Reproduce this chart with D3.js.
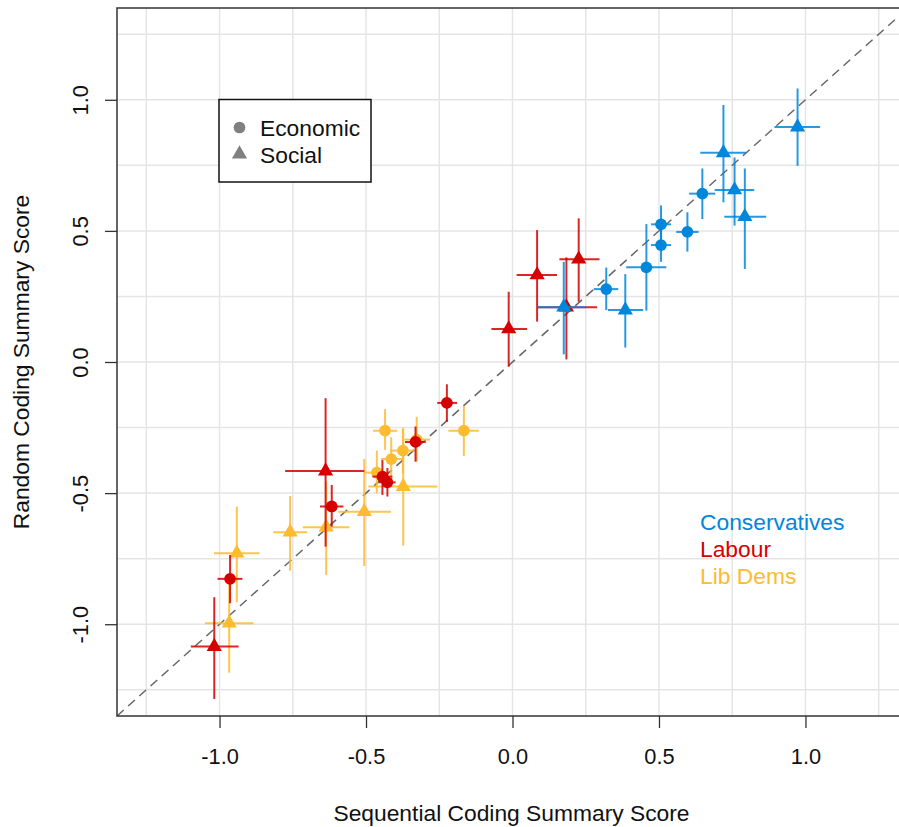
<!DOCTYPE html>
<html>
<head>
<meta charset="utf-8">
<script src="https://cdn.jsdelivr.net/npm/d3@7"></script>
<style>
  body { margin: 0; background: #fff; }
  text { font-family: "Liberation Sans", Arial, sans-serif; }
</style>
</head>
<body>
<script>
var parties = ["Conservatives", "Labour", "Lib Dems"];
var partyColors = ["#0087DC", "#D50000", "#FDBB30"];
var dimensions = ["Economic", "Social"];

// each row: sequential score, random score, seq low, seq high, random low, random high, dimension
var conservatives = [
  [0.648, 0.642, 0.603, 0.692, 0.545, 0.738, "Economic"],
  [0.507, 0.525, 0.473, 0.541, 0.460, 0.597, "Economic"],
  [0.507, 0.446, 0.473, 0.541, 0.382, 0.510, "Economic"],
  [0.597, 0.496, 0.559, 0.635, 0.421, 0.571, "Economic"],
  [0.457, 0.361, 0.388, 0.525, 0.196, 0.526, "Economic"],
  [0.320, 0.278, 0.277, 0.361, 0.198, 0.360, "Economic"],
  [0.973, 0.896, 0.894, 1.050, 0.748, 1.043, "Social"],
  [0.720, 0.798, 0.641, 0.797, 0.609, 0.980, "Social"],
  [0.758, 0.656, 0.690, 0.825, 0.520, 0.780, "Social"],
  [0.793, 0.554, 0.723, 0.866, 0.355, 0.738, "Social"],
  [0.385, 0.198, 0.326, 0.446, 0.055, 0.335, "Social"],
  [0.175, 0.209, 0.084, 0.249, 0.029, 0.382, "Social"]
];
var labour = [
  [-0.224, -0.156, -0.257, -0.189, -0.228, -0.085, "Economic"],
  [-0.331, -0.305, -0.367, -0.296, -0.380, -0.246, "Economic"],
  [-0.444, -0.437, -0.478, -0.410, -0.507, -0.374, "Economic"],
  [-0.427, -0.459, -0.457, -0.399, -0.513, -0.404, "Economic"],
  [-0.617, -0.551, -0.657, -0.577, -0.628, -0.469, "Economic"],
  [-0.964, -0.827, -1.007, -0.922, -0.920, -0.736, "Economic"],
  [-0.013, 0.126, -0.072, 0.050, -0.018, 0.268, "Social"],
  [0.084, 0.332, 0.014, 0.152, 0.154, 0.503, "Social"],
  [0.226, 0.392, 0.160, 0.297, 0.230, 0.548, "Social"],
  [0.184, 0.209, 0.084, 0.289, 0.010, 0.399, "Social"],
  [-0.638, -0.416, -0.776, -0.506, -0.704, -0.138, "Social"],
  [-1.018, -1.085, -1.098, -0.935, -1.285, -0.897, "Social"]
];
var libDems = [
  [-0.166, -0.262, -0.219, -0.115, -0.358, -0.167, "Economic"],
  [-0.435, -0.262, -0.476, -0.393, -0.335, -0.180, "Economic"],
  [-0.327, -0.296, -0.369, -0.281, -0.380, -0.209, "Economic"],
  [-0.374, -0.338, -0.417, -0.335, -0.425, -0.253, "Economic"],
  [-0.414, -0.370, -0.449, -0.375, -0.456, -0.287, "Economic"],
  [-0.463, -0.422, -0.504, -0.429, -0.501, -0.338, "Economic"],
  [-0.373, -0.475, -0.492, -0.256, -0.700, -0.253, "Social"],
  [-0.506, -0.571, -0.594, -0.415, -0.778, -0.370, "Social"],
  [-0.636, -0.630, -0.716, -0.557, -0.812, -0.456, "Social"],
  [-0.759, -0.649, -0.817, -0.701, -0.796, -0.511, "Social"],
  [-0.941, -0.729, -1.019, -0.864, -0.916, -0.552, "Social"],
  [-0.967, -0.996, -1.050, -0.884, -1.185, -0.820, "Social"]
];

var xTicks = [-1, -0.5, 0, 0.5, 1];
var yTicks = [-1, -0.5, 0, 0.5, 1];
var gridTicks = [-1.25, -1, -0.75, -0.5, -0.25, 0, 0.25, 0.5, 0.75, 1, 1.25];

var width = 899, height = 827;
var tickFont = 21.8, labelFont = 22.8;

var x = d3.scaleLinear().domain([-1.35, 1.35]).range([117, 908]);
var y = d3.scaleLinear().domain([-1.35, 1.35]).range([716, 8]);

var svg = d3.select("body").append("svg")
  .attr("width", width)
  .attr("height", height);

svg.append("defs").append("clipPath").attr("id", "plotclip")
  .append("rect")
  .attr("x", x.range()[0]).attr("y", y.range()[1])
  .attr("width", x.range()[1] - x.range()[0])
  .attr("height", y.range()[0] - y.range()[1]);

var plot = svg.append("g").attr("clip-path", "url(#plotclip)");

// grid
plot.selectAll(".vgrid").data(gridTicks).enter().append("line")
  .attr("x1", function(d) { return x(d); }).attr("x2", function(d) { return x(d); })
  .attr("y1", y.range()[0]).attr("y2", y.range()[1])
  .attr("stroke", "#e5e5e5").attr("stroke-width", 1.5);
plot.selectAll(".hgrid").data(gridTicks).enter().append("line")
  .attr("y1", function(d) { return y(d); }).attr("y2", function(d) { return y(d); })
  .attr("x1", x.range()[0]).attr("x2", x.range()[1])
  .attr("stroke", "#e5e5e5").attr("stroke-width", 1.5);

// 45 degree reference line
plot.append("line")
  .attr("x1", x(-1.35)).attr("y1", y(-1.35))
  .attr("x2", x(1.35)).attr("y2", y(1.35))
  .attr("stroke", "#666").attr("stroke-width", 1.5)
  .attr("stroke-dasharray", "9,6");

var symbol = d3.symbol()
  .type(function(d) { return d[6] === "Economic" ? d3.symbolCircle : d3.symbolTriangle; })
  .size(function(d) { return d[6] === "Economic" ? 108 : 100; });

// draw Lib Dems first, Conservatives last
var drawOrder = [[libDems, 2], [labour, 1], [conservatives, 0]];
drawOrder.forEach(function(p) {
  var rows = p[0], col = partyColors[p[1]];
  var g = plot.append("g");
  g.selectAll(".hbar").data(rows).enter().append("line")
    .attr("x1", function(d) { return x(d[2]); }).attr("x2", function(d) { return x(d[3]); })
    .attr("y1", function(d) { return y(d[1]); }).attr("y2", function(d) { return y(d[1]); })
    .attr("stroke", col).attr("stroke-width", 2).attr("stroke-opacity", 0.85);
  g.selectAll(".vbar").data(rows).enter().append("line")
    .attr("x1", function(d) { return x(d[0]); }).attr("x2", function(d) { return x(d[0]); })
    .attr("y1", function(d) { return y(d[4]); }).attr("y2", function(d) { return y(d[5]); })
    .attr("stroke", col).attr("stroke-width", 2).attr("stroke-opacity", 0.85);
  g.selectAll(".pt").data(rows).enter().append("path")
    .attr("d", symbol)
    .attr("transform", function(d) { return "translate(" + x(d[0]) + "," + y(d[1]) + ")"; })
    .attr("fill", col);
});

// box
svg.append("rect")
  .attr("x", x.range()[0]).attr("y", y.range()[1])
  .attr("width", x.range()[1] - x.range()[0])
  .attr("height", y.range()[0] - y.range()[1])
  .attr("fill", "none").attr("stroke", "#333").attr("stroke-width", 1.5);

// axes
var xAxis = d3.axisBottom(x).tickValues(xTicks).tickSize(12).tickPadding(21)
  .tickFormat(function(d) { return d.toFixed(1); });
var yAxis = d3.axisLeft(y).tickValues(yTicks).tickSize(12)
  .tickFormat(function(d) { return d.toFixed(1); });

var gx = svg.append("g").attr("transform", "translate(0," + y.range()[0] + ")").call(xAxis);
gx.select(".domain").remove();
gx.selectAll("line").attr("stroke", "#333").attr("stroke-width", 1.3);
gx.selectAll("text").attr("font-size", tickFont).attr("fill", "#111")
  .attr("font-family", "Liberation Sans, Arial, sans-serif");

var gy = svg.append("g").attr("transform", "translate(" + x.range()[0] + ",0)").call(yAxis);
gy.select(".domain").remove();
gy.selectAll("line").attr("stroke", "#333").attr("stroke-width", 1.3);
gy.selectAll("text")
  .attr("x", 0).attr("y", 0).attr("dy", 0)
  .attr("transform", "translate(-29,0) rotate(-90)")
  .attr("text-anchor", "middle")
  .attr("font-size", tickFont).attr("fill", "#111")
  .attr("font-family", "Liberation Sans, Arial, sans-serif");

svg.append("text")
  .attr("x", (x(-1.35) + x(1.35)) / 2 - 1).attr("y", 821)
  .attr("text-anchor", "middle").attr("font-size", labelFont).attr("fill", "#111")
  .text("Sequential Coding Summary Score");
svg.append("text")
  .attr("transform", "translate(29," + ((y(-1.35) + y(1.35)) / 2) + ") rotate(-90)")
  .attr("text-anchor", "middle").attr("font-size", labelFont).attr("fill", "#111")
  .text("Random Coding Summary Score");

// shape legend
var lg = svg.append("g").attr("transform", "translate(219,99.5)");
lg.append("rect").attr("width", 152).attr("height", 82.5)
  .attr("fill", "#fff").attr("stroke", "#111").attr("stroke-width", 1.5);
var li = lg.selectAll(".li").data(dimensions).enter().append("g")
  .attr("transform", function(d, i) { return "translate(0," + (28 + i * 26.5) + ")"; });
li.append("path")
  .attr("d", function(d) { return symbol([0, 0, 0, 0, 0, 0, d]); })
  .attr("transform", "translate(20.5,0)")
  .attr("fill", "#808080");
li.append("text").attr("x", 41).attr("y", 8.5).attr("font-size", labelFont).attr("fill", "#111")
  .text(function(d) { return d; });

// party legend
svg.selectAll(".party").data(parties).enter().append("text")
  .attr("x", 700).attr("y", function(d, i) { return 530 + i * 27; })
  .attr("font-size", labelFont)
  .attr("fill", function(d, i) { return partyColors[i]; })
  .text(function(d) { return d; });
</script>
</body>
</html>
